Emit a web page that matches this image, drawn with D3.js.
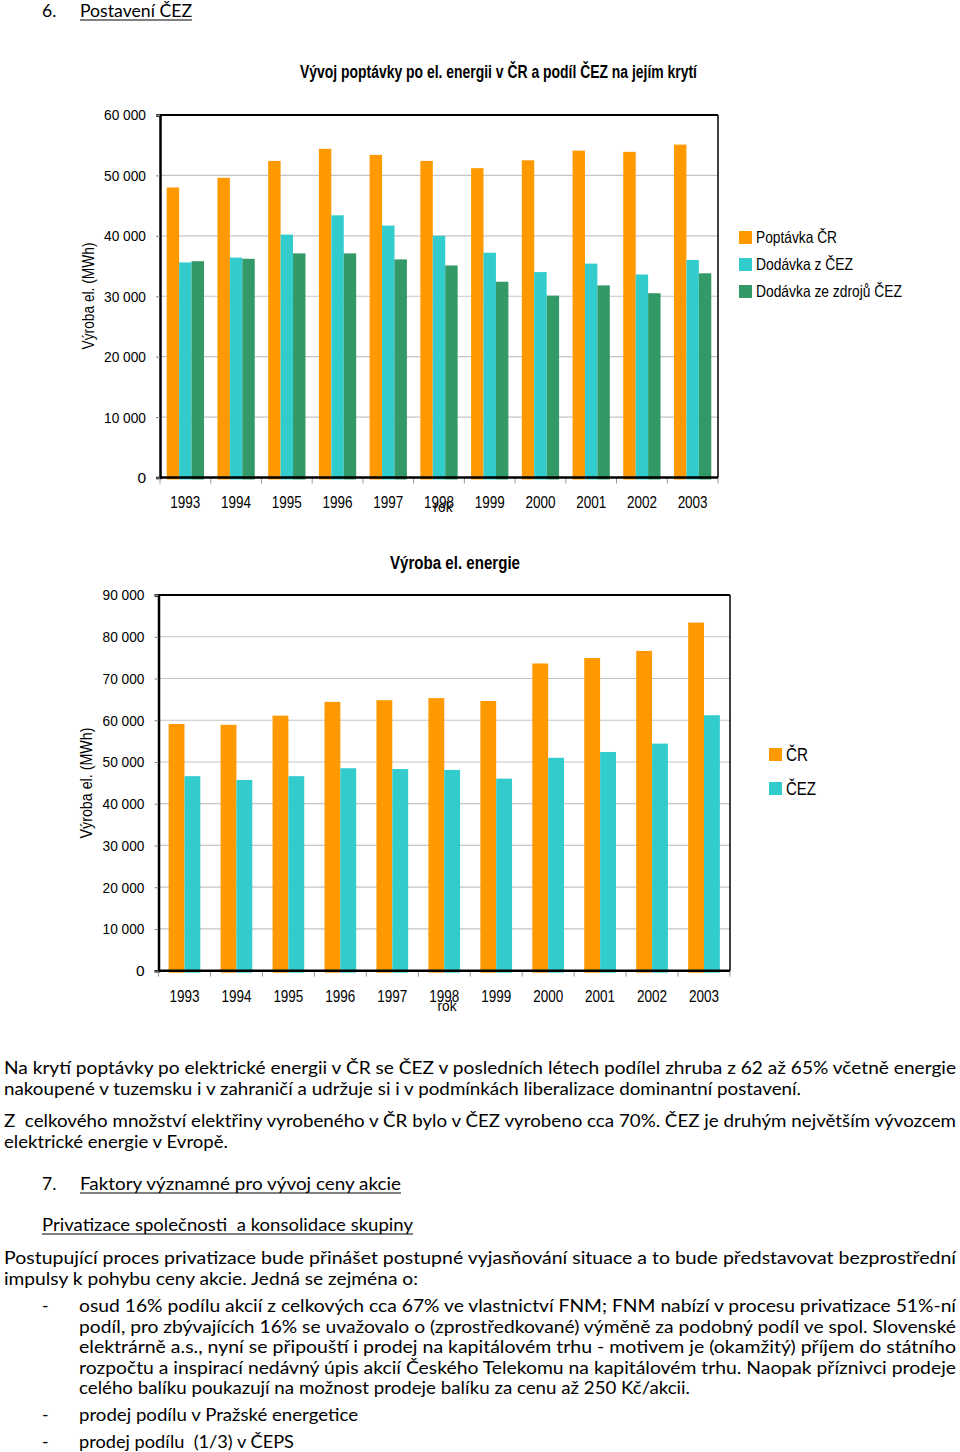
<!DOCTYPE html>
<html><head><meta charset="utf-8">
<script src="https://cdn.jsdelivr.net/npm/d3@7"></script>
<style>body{margin:0;background:#fff}svg{display:block}</style>
</head><body>
<script>
// ---------- DATA ----------
const years = ["1993","1994","1995","1996","1997","1998","1999","2000","2001","2002","2003"];
const demandCR      = [48000, 49600, 52400, 54400, 53400, 52400, 51200, 52500, 54100, 53900, 55100];
const supplyCEZ     = [35600, 36400, 40200, 43400, 41700, 40000, 37200, 34000, 35400, 33600, 36000];
const supplyOwnCEZ  = [35800, 36200, 37100, 37100, 36100, 35100, 32400, 30100, 31800, 30500, 33800];
const chart1Series  = ["Poptávka ČR", "Dodávka z ČEZ", "Dodávka ze zdrojů ČEZ"];
const chart1Ticks   = [0, 10000, 20000, 30000, 40000, 50000, 60000];

const prodCR  = [59100, 58900, 61100, 64400, 64800, 65300, 64600, 73600, 74900, 76600, 83400];
const prodCEZ = [46600, 45700, 46600, 48500, 48300, 48100, 46000, 51000, 52400, 54400, 61200];
const chart2Series = ["ČR", "ČEZ"];
const chart2Ticks  = [0, 10000, 20000, 30000, 40000, 50000, 60000, 70000, 80000, 90000];

const colors = ["#FF9900", "#33CCCC", "#339966"];

// ---------- SETUP ----------
const W = 960, H = 1452;
const svg = d3.select("body").append("svg").attr("width", W).attr("height", H);
const chartFont = "'Liberation Sans', Arial, sans-serif";
const bodyFont = "Lato, 'Noto Sans', sans-serif";
const fmt = d => d3.format(",")(d).replace(/,/g, " ");

function drawChart(cfg) {
  const g = svg.append("g");
  const x0 = d3.scaleBand().domain(years).range([cfg.left, cfg.right]).padding(0);
  const groupW = x0.bandwidth() * cfg.groupFrac;
  const x1 = d3.scaleBand().domain(cfg.series).range([0, groupW]).padding(0);
  const y = d3.scaleLinear().domain([0, cfg.max]).range([cfg.bottom, cfg.top]);

  // gridlines
  g.append("g").selectAll("line").data(cfg.ticks.filter(t => t > 0 && t < cfg.max)).join("line")
    .attr("x1", cfg.left).attr("x2", cfg.right)
    .attr("y1", d => y(d)).attr("y2", d => y(d))
    .attr("stroke", "#c4c4c4").attr("stroke-width", 1.2);

  // bars
  const rows = years.map((yr, i) => ({ yr, vals: cfg.data.map(arr => arr[i]) }));
  g.append("g").selectAll("g").data(rows).join("g")
    .attr("transform", d => `translate(${x0(d.yr) + (x0.bandwidth() - groupW) / 2},0)`)
    .selectAll("rect").data(d => d.vals.map((v, k) => ({ v, k }))).join("rect")
    .attr("x", d => x1(cfg.series[d.k]))
    .attr("width", x1.bandwidth())
    .attr("y", d => y(d.v))
    .attr("height", d => y(0) - y(d.v) + 2)
    .attr("fill", d => colors[d.k]);

  // frame: top & right thin
  g.append("line").attr("x1", cfg.left).attr("x2", cfg.right).attr("y1", cfg.top).attr("y2", cfg.top)
    .attr("stroke", "#000").attr("stroke-width", 1.8);
  g.append("line").attr("x1", cfg.right).attr("x2", cfg.right).attr("y1", cfg.top).attr("y2", cfg.bottom)
    .attr("stroke", "#000").attr("stroke-width", 1.5);

  // y axis
  const yAxis = d3.axisLeft(y).tickValues(cfg.ticks).tickFormat(fmt).tickSize(4).tickPadding(10);
  const ya = g.append("g").attr("transform", `translate(${cfg.left},0)`).call(yAxis);
  ya.select(".domain").attr("stroke", "#000").attr("stroke-width", 2.5);
  ya.selectAll(".tick line").attr("stroke", "#888");
  ya.selectAll("text").attr("font-family", chartFont).attr("font-size", 15.5).attr("fill", "#000");
  ya.selectAll(".tick text").attr("textLength", d => d === 0 ? null : 42).attr("lengthAdjust", "spacingAndGlyphs");

  // x axis
  const xTicks = years.map(yr => x0(yr)).concat([cfg.right]);
  const xa = g.append("g");
  xa.selectAll("line").data(xTicks).join("line")
    .attr("x1", d => d).attr("x2", d => d).attr("y1", cfg.bottom).attr("y2", cfg.bottom + 6)
    .attr("stroke", "#999").attr("stroke-width", 1);
  xa.append("line").attr("x1", cfg.left).attr("x2", cfg.right).attr("y1", cfg.bottom).attr("y2", cfg.bottom)
    .attr("stroke", "#000").attr("stroke-width", 2.5);
  xa.selectAll("text").data(years).join("text")
    .attr("x", d => x0(d) + x0.bandwidth() / 2).attr("y", cfg.xLabelY)
    .attr("text-anchor", "middle").attr("font-family", chartFont).attr("font-size", 16.5)
    .attr("textLength", 30).attr("lengthAdjust", "spacingAndGlyphs")
    .text(d => d);
  // x title
  g.append("text").attr("x", cfg.rokX).attr("y", cfg.rokY).attr("text-anchor", "middle")
    .attr("font-family", chartFont).attr("font-size", 15)
    .attr("textLength", 19).attr("lengthAdjust", "spacingAndGlyphs").text("rok");
  // y title
  g.append("text").attr("transform", `translate(${cfg.yTitleX},${cfg.yTitleY}) rotate(-90)`)
    .attr("text-anchor", "middle").attr("font-family", chartFont).attr("font-size", 16.5)
    .attr("textLength", cfg.yTitleLen).attr("lengthAdjust", "spacingAndGlyphs")
    .text("Výroba el. (MWh)");
  // title
  g.append("text").attr("x", cfg.titleX).attr("y", cfg.titleY).attr("text-anchor", "middle")
    .attr("font-family", chartFont).attr("font-weight", "bold").attr("font-size", cfg.titleSize)
    .attr("textLength", cfg.titleLen).attr("lengthAdjust", "spacingAndGlyphs")
    .text(cfg.title);
  // legend
  const lg = g.append("g").selectAll("g").data(cfg.series).join("g")
    .attr("transform", (d, i) => `translate(${cfg.legX},${cfg.legY + i * cfg.legStep})`);
  lg.append("rect").attr("width", 13).attr("height", 13).attr("fill", (d, i) => colors[i]);
  lg.append("text").attr("x", 17).attr("y", 6.5).attr("dy", "0.36em")
    .attr("font-family", chartFont).attr("font-size", cfg.legSize)
    .attr("textLength", (d, i) => cfg.legLens[i]).attr("lengthAdjust", "spacingAndGlyphs")
    .text(d => d);
}

drawChart({
  left: 160, right: 718, top: 115, bottom: 477.5, max: 60000, ticks: chart1Ticks,
  series: chart1Series, data: [demandCR, supplyCEZ, supplyOwnCEZ], groupFrac: 0.735,
  xLabelY: 508, rokX: 443, rokY: 512, yTitleX: 94, yTitleY: 296, yTitleLen: 107,
  title: "Vývoj poptávky po el. energii v ČR a podíl ČEZ na jejím krytí",
  titleX: 498.5, titleY: 78, titleSize: 17.5, titleLen: 397,
  legX: 739, legY: 231, legStep: 27, legSize: 16.5, legLens: [81, 97, 146]
});

drawChart({
  left: 158.5, right: 730, top: 595, bottom: 970.7, max: 90000, ticks: chart2Ticks,
  series: chart2Series, data: [prodCR, prodCEZ], groupFrac: 0.61,
  xLabelY: 1002, rokX: 447, rokY: 1011, yTitleX: 92, yTitleY: 783, yTitleLen: 111,
  title: "Výroba el. energie",
  titleX: 455, titleY: 569, titleSize: 18, titleLen: 130,
  legX: 769, legY: 748, legStep: 34, legSize: 18, legLens: [22, 30]
});

// ---------- BODY TEXT ----------
const bodyLines = [
  { x: 42, y: 11, t: "6." },
  { x: 80, y: 11, t: "Postavení ČEZ", w: 112, u: true },
  { x: 4, y: 1068, t: "Na krytí poptávky po elektrické energii v ČR se ČEZ v posledních létech podílel zhruba z 62 až 65% včetně energie", w: 952 },
  { x: 4, y: 1089, t: "nakoupené v tuzemsku i v zahraničí a udržuje si i v podmínkách liberalizace dominantní postavení.", w: 797 },
  { x: 4, y: 1121, t: "Z  celkového množství elektřiny vyrobeného v ČR bylo v ČEZ vyrobeno cca 70%. ČEZ je druhým největším vývozcem", w: 952 },
  { x: 4, y: 1142, t: "elektrické energie v Evropě.", w: 224 },
  { x: 42, y: 1184, t: "7." },
  { x: 80, y: 1184, t: "Faktory významné pro vývoj ceny akcie", w: 321, u: true },
  { x: 42, y: 1225, t: "Privatizace společnosti  a konsolidace skupiny", w: 371, u: true },
  { x: 4, y: 1258, t: "Postupující proces privatizace bude přinášet postupné vyjasňování situace a to bude představovat bezprostřední", w: 952 },
  { x: 4, y: 1279, t: "impulsy k pohybu ceny akcie. Jedná se zejména o:", w: 414 },
  { x: 42, y: 1306, t: "-" },
  { x: 79, y: 1306, t: "osud 16% podílu akcií z celkových cca 67% ve vlastnictví FNM; FNM nabízí v procesu privatizace 51%-ní", w: 877 },
  { x: 79, y: 1327, t: "podíl, pro zbývajících 16% se uvažovalo o (zprostředkované) výměně za podobný podíl ve spol. Slovenské", w: 877 },
  { x: 79, y: 1347, t: "elektrárně a.s., nyní se připouští i prodej na kapitálovém trhu - motivem je (okamžitý) příjem do státního", w: 877 },
  { x: 79, y: 1368, t: "rozpočtu a inspirací nedávný úpis akcií Českého Telekomu na kapitálovém trhu. Naopak příznivci prodeje", w: 877 },
  { x: 79, y: 1388, t: "celého balíku poukazují na možnost prodeje balíku za cenu až 250 Kč/akcii.", w: 611 },
  { x: 42, y: 1415, t: "-" },
  { x: 79, y: 1415, t: "prodej podílu v Pražské energetice", w: 279 },
  { x: 42, y: 1442, t: "-" },
  { x: 79, y: 1442, t: "prodej podílu  (1/3) v ČEPS", w: 215 }
];
const bt = svg.append("g").attr("font-family", bodyFont).attr("font-size", 17.5).attr("fill", "#000");
bodyLines.forEach(l => {
  const t = bt.append("text").attr("x", l.x).attr("y", l.y + 6).attr("xml:space", "preserve")
    .style("white-space", "pre").text(l.t);
  if (l.w) t.attr("textLength", l.w).attr("lengthAdjust", "spacingAndGlyphs");
  if (l.u) bt.append("line").attr("x1", l.x).attr("x2", l.x + l.w)
    .attr("y1", l.y + 9).attr("y2", l.y + 9).attr("stroke", "#000").attr("stroke-width", 1);
});
</script>
</body></html>
